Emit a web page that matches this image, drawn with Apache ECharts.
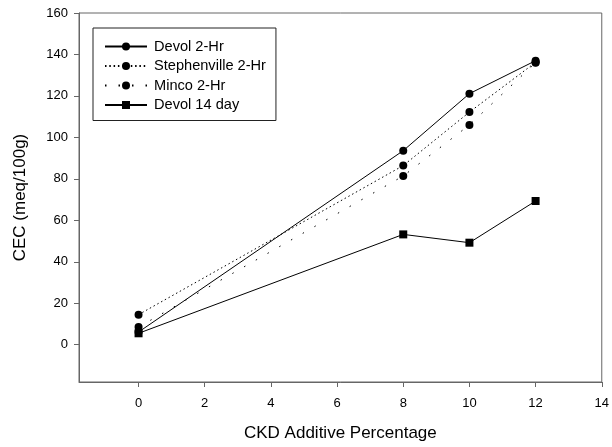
<!DOCTYPE html>
<html>
<head>
<meta charset="utf-8">
<script src="https://cdn.jsdelivr.net/npm/echarts@6/dist/echarts.min.js"></script>
<style>html,body{margin:0;padding:0;background:#fff;}#chart{width:612px;height:447px;}</style>
</head>
<body>
<div id="chart"></div>
<script>
const additivePct = [0, 8, 10, 12];
const devol2Hr = [6.1, 93.6, 121.1, 137.0];
const stephenville2Hr = [14.5, 86.4, 112.2, 136.2];
const minco2Hr = [8.5, 81.4, 106.0, 136.0];
const devol14Day = [5.5, 53.2, 49.2, 69.3];
const xTicks = [0, 2, 4, 6, 8, 10, 12, 14];
const yTicks = [0, 20, 40, 60, 80, 100, 120, 140, 160];

const pair = arr => additivePct.map((x, i) => [x, arr[i]]);
const FONT = 'Liberation Sans, Arial, sans-serif';
const chart = echarts.init(document.getElementById('chart'));
const base = (name, data, type, symbol, size) => ({
  name, type: 'line', data: pair(data), symbol, symbolSize: size,
  itemStyle: { color: '#000' },
  lineStyle: { color: '#000', width: 1, type },
  animation: false
});
chart.setOption({
  backgroundColor: '#fff',
  animation: false,
  grid: { left: 79, right: 9, top: 13, bottom: 65, show: true, borderColor: '#666', borderWidth: 1 },
  legend: {
    orient: 'vertical', left: 93, top: 28,
    borderColor: '#222', borderWidth: 1,
    padding: [11, 10, 8, 11],
    itemWidth: 42, itemHeight: 10, itemGap: 4.5,
    textStyle: { fontFamily: FONT, fontSize: 14.6, color: '#000', padding: [0, 0, 0, 2] },
    data: ['Devol 2-Hr', 'Stephenville 2-Hr', 'Minco 2-Hr', 'Devol 14 day']
  },
  xAxis: {
    type: 'value', min: -1.8, max: 14,
    name: 'CKD Additive Percentage', nameLocation: 'middle', nameGap: 43,
    nameTextStyle: { fontFamily: FONT, fontSize: 17, color: '#000' },
    axisLine: { onZero: false, lineStyle: { color: '#666' } },
    axisTick: { show: true, inside: false, length: 5, customValues: xTicks, lineStyle: { color: '#666' } },
    axisLabel: { customValues: xTicks, fontFamily: FONT, fontSize: 13, color: '#000', margin: 15 },
    splitLine: { show: false }
  },
  yAxis: {
    type: 'value', min: -18, max: 160,
    name: 'CEC (meq/100g)', nameLocation: 'middle', nameGap: 50,
    nameTextStyle: { fontFamily: FONT, fontSize: 17, color: '#000' },
    axisLine: { show: true, onZero: false, lineStyle: { color: '#666' } },
    axisTick: { show: true, inside: false, length: 5, customValues: yTicks, lineStyle: { color: '#666' } },
    axisLabel: { customValues: yTicks, fontFamily: FONT, fontSize: 13, color: '#000', margin: 11 },
    splitLine: { show: false }
  },
  series: [
    base('Devol 2-Hr', devol2Hr, 'solid', 'circle', 8),
    base('Stephenville 2-Hr', stephenville2Hr, [1.5, 2.8], 'circle', 8),
    base('Minco 2-Hr', minco2Hr, [1.5, 12], 'circle', 8),
    base('Devol 14 day', devol14Day, 'solid', 'rect', 8)
  ]
});
</script>
</body>
</html>
